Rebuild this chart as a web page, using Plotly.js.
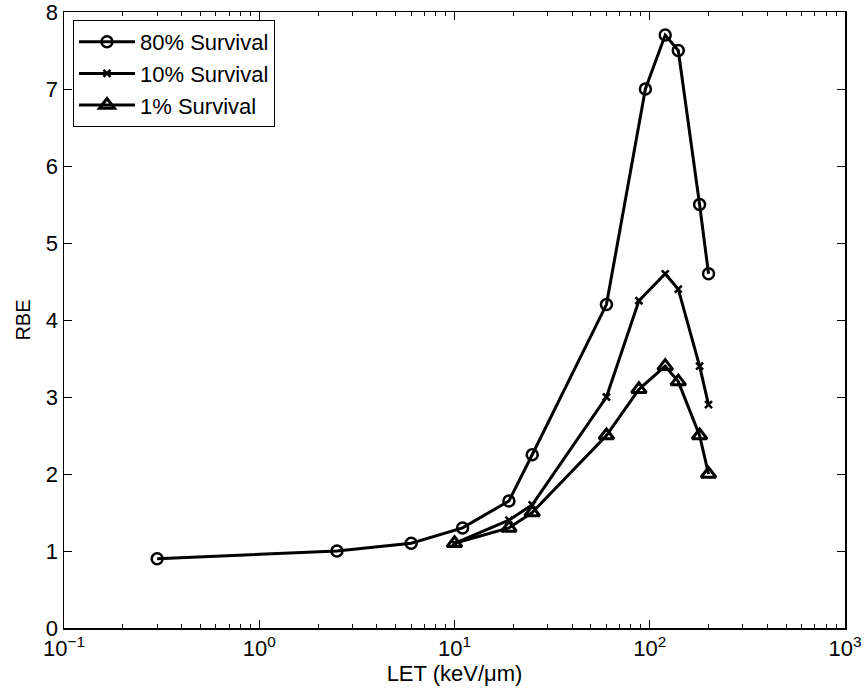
<!DOCTYPE html>
<html>
<head>
<meta charset="utf-8">
<script src="https://cdn.plot.ly/plotly-3.0.1.min.js"></script>
<style>
html,body{margin:0;padding:0;background:#fff;}
#chart{width:865px;height:698px;}
</style>
</head>
<body>
<div id="chart"></div>
<script>
// Data
const let80 = [0.3, 2.5, 6, 11, 19, 25, 60, 95, 120, 140, 180, 200];
const rbe80 = [0.9, 1.0, 1.1, 1.3, 1.65, 2.25, 4.2, 7.0, 7.7, 7.5, 5.5, 4.6];

const let10 = [10, 19, 25, 60, 88, 120, 140, 180, 200];
const rbe10 = [1.1, 1.4, 1.6, 3.0, 4.25, 4.6, 4.4, 3.4, 2.9];

const let1 = [10, 19, 25, 60, 88, 120, 140, 180, 200];
const rbe1 = [1.1, 1.3, 1.5, 2.5, 3.1, 3.4, 3.2, 2.5, 2.0];

const seriesNames = ["80% Survival", "10% Survival", "1% Survival"];

const xTickVals = [0.1, 1, 10, 100, 1000];
const xTickText = ["10<sup>−1</sup>", "10<sup>0</sup>", "10<sup>1</sup>", "10<sup>2</sup>", "10<sup>3</sup>"];
const yTickVals = [0, 1, 2, 3, 4, 5, 6, 7, 8];

// minor tick positions (2..9 within each decade)
const minorVals = [];
for (let d = 0; d < xTickVals.length - 1; d++) {
  for (let m = 2; m <= 9; m++) minorVals.push(xTickVals[d] * m);
}

const FONT = "Liberation Sans, Arial, Helvetica, sans-serif";

const traces = [
  {x: let80, y: rbe80, name: seriesNames[0], type: "scatter", mode: "lines+markers",
   line: {color: "#000", width: 3},
   marker: {symbol: "circle-open", size: 11, color: "#000", line: {width: 2.5, color: "#000"}}},
  {x: let10, y: rbe10, name: seriesNames[1], type: "scatter", mode: "lines+markers",
   line: {color: "#000", width: 3},
   marker: {symbol: "x-thin-open", size: 7, color: "#000", line: {width: 2.5, color: "#000"}}},
  {x: let1, y: rbe1, name: seriesNames[2], type: "scatter", mode: "lines+markers",
   line: {color: "#000", width: 3},
   marker: {symbol: "triangle-up-open", size: 13, color: "#000", line: {width: 3, color: "#000"}}}
];

const layout = {
  width: 865, height: 698,
  margin: {l: 64, r: 20, t: 12, b: 70, autoexpand: false},
  paper_bgcolor: "#fff", plot_bgcolor: "#fff",
  font: {family: FONT, color: "#000", size: 21},
  showlegend: true,
  legend: {
    x: 0.0115, y: 0.987, xanchor: "left", yanchor: "top",
    bgcolor: "#fff", bordercolor: "#000", borderwidth: 1,
    font: {family: FONT, size: 22, color: "#000"},
    itemwidth: 56, tracegroupgap: 0
  },
  xaxis: {
    type: "log", range: [-1, 3], automargin: false,
    tickmode: "array", tickvals: xTickVals, ticktext: xTickText,
    ticks: "inside", ticklen: 8, tickwidth: 1, tickcolor: "#000",
    ticklabeloverflow: "allow",
    minor: {tickmode: "array", tickvals: minorVals, ticks: "inside", ticklen: 4, tickwidth: 1, tickcolor: "#000", showgrid: false},
    showgrid: false, zeroline: false,
    showline: true, linecolor: "#000", linewidth: 1.5, mirror: "ticks",
    tickfont: {family: FONT, size: 22, color: "#000"},
    title: {text: "LET (keV/μm)", font: {family: FONT, size: 22, color: "#000"}, standoff: 4}
  },
  yaxis: {
    range: [0, 8], automargin: false,
    tickmode: "array", tickvals: yTickVals,
    ticks: "inside", ticklen: 8, tickwidth: 1, tickcolor: "#000",
    ticklabeloverflow: "allow",
    showgrid: false, zeroline: false,
    showline: true, linecolor: "#000", linewidth: 1.5, mirror: "ticks",
    tickfont: {family: FONT, size: 22, color: "#000"},
    title: {text: "RBE", font: {family: FONT, size: 20, color: "#000"}, standoff: 10}
  }
};

Plotly.newPlot("chart", traces, layout, {displayModeBar: false, staticPlot: true});
</script>
</body>
</html>
